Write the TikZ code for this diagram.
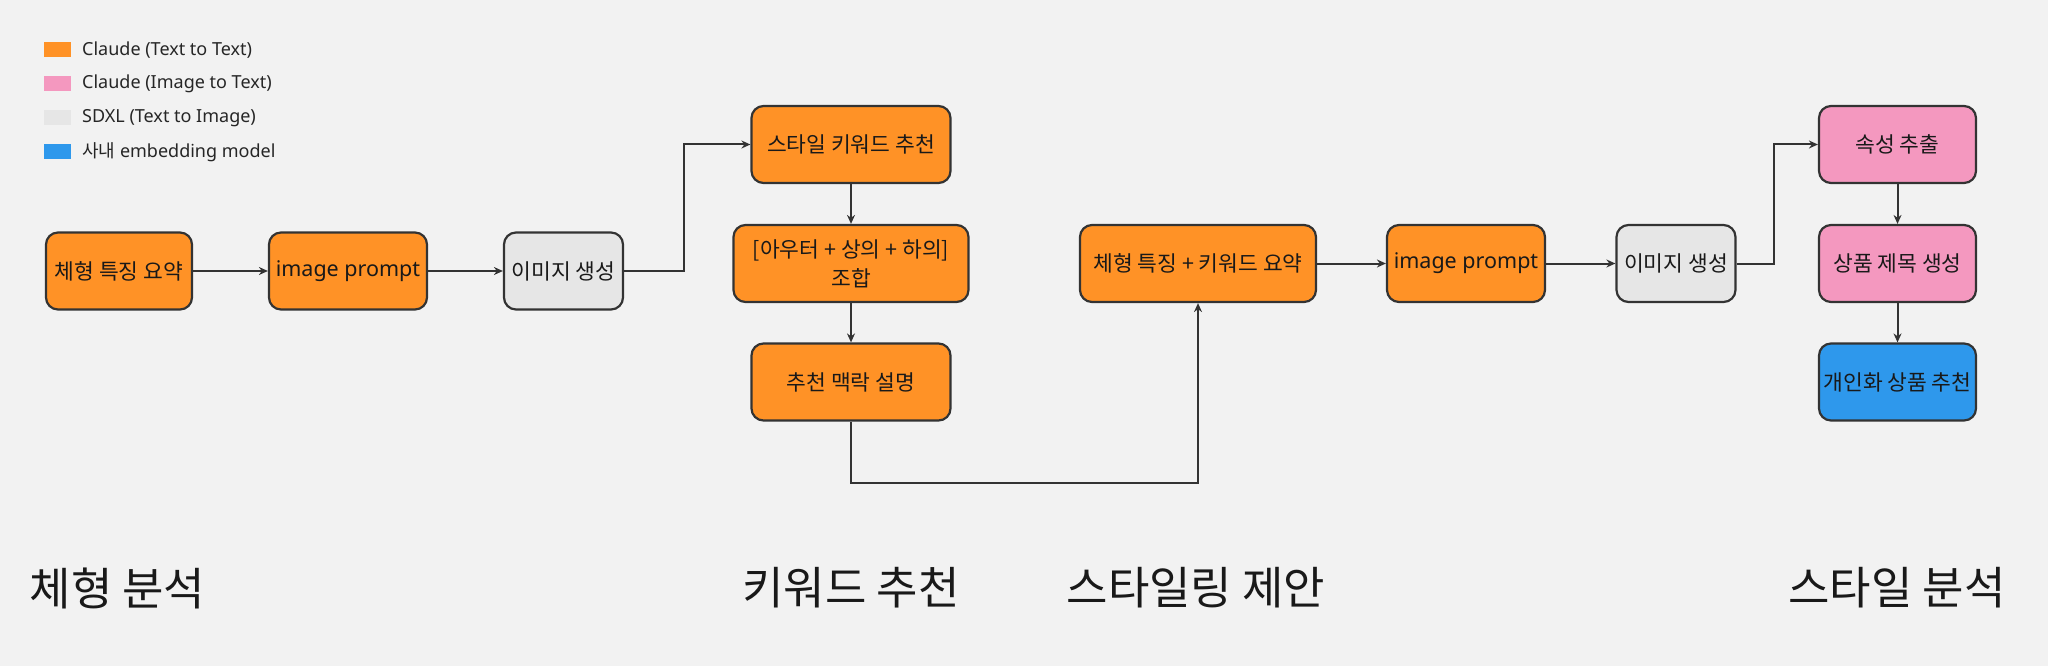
\documentclass[tikz,border=0pt]{standalone}
\usepackage{fontspec}
\setmainfont{Noto Sans}
\newfontfamily\kr{Noto Sans CJK KR}
\usetikzlibrary{arrows.meta}
\definecolor{bgc}{HTML}{F2F2F2}
\definecolor{orangec}{HTML}{FF9226}
\definecolor{pinkc}{HTML}{F498BF}
\definecolor{grayc}{HTML}{E6E6E6}
\definecolor{bluec}{HTML}{2E98EC}
\definecolor{linec}{HTML}{333333}
\begin{document}
\begin{tikzpicture}[x=1pt,y=-1pt,
  box/.style={draw=linec, line width=2.2pt, rounded corners=12pt, minimum height=77pt,
    align=center, inner sep=0pt, text=black!90, font=\kr\fontsize{21.5}{29}\selectfont},
  obox/.style={box, fill=orangec},
  pbox/.style={box, fill=pinkc},
  gbox/.style={box, fill=grayc},
  bbox/.style={box, fill=bluec},
  conn/.style={draw=linec, line width=2pt, -{Stealth[length=9pt,width=8pt]}},
  legsq/.style={minimum width=27pt, minimum height=15pt, inner sep=0pt},
  legtxt/.style={anchor=west, inner sep=0pt, text=black!85, font=\fontsize{18}{22}\selectfont},
  phase/.style={inner sep=0pt, text=black!90, font=\kr\fontsize{45}{50}\selectfont}
]
\useasboundingbox (0,0) rectangle (2048,666);
\fill[bgc] (0,0) rectangle (2048,666);

% legend
\node[legsq, fill=orangec] (l1) at (57.5,50) {};
\node[legtxt] (t1) at (82,50) {Claude (Text to Text)};
\node[legsq, fill=pinkc] (l2) at (57.5,84) {};
\node[legtxt] (t2) at (82,84) {Claude (Image to Text)};
\node[legsq, fill=grayc] (l3) at (57.5,118) {};
\node[legtxt] (t3) at (82,118) {SDXL (Text to Image)};
\node[legsq, fill=bluec] (l4) at (57.5,152) {};
\node[legtxt] (t4) at (82,152) {{\kr 사내} embedding model};

% nodes
\node[obox, minimum width=146pt] (n1) at (119,271) {체형 특징 요약};
\node[obox, minimum width=158pt, font=\fontsize{21.5}{29}\selectfont] (n2) at (348,271) {image prompt};
\node[gbox, minimum width=119pt] (n3) at (563.5,271) {이미지 생성};
\node[obox, minimum width=199pt] (n4) at (851,144.5) {스타일 키워드 추천};
\node[obox, minimum width=235pt] (n5) at (851,263.5) {[아우터 + 상의 + 하의]\\조합};
\node[obox, minimum width=199pt] (n6) at (851,382) {추천 맥락 설명};
\node[obox, minimum width=236pt] (n7) at (1198,263.5) {체형 특징 + 키워드 요약};
\node[obox, minimum width=158pt, font=\fontsize{21.5}{29}\selectfont] (n8) at (1466,263.5) {image prompt};
\node[gbox, minimum width=119pt] (n9) at (1676,263.5) {이미지 생성};
\node[pbox, minimum width=157pt] (n10) at (1897.5,144.5) {속성 추출};
\node[pbox, minimum width=157pt] (n11) at (1897.5,263.5) {상품 제목 생성};
\node[bbox, minimum width=157pt] (n12) at (1897.5,382) {개인화 상품 추천};

\coordinate (j1) at (684,271);
\coordinate (j2) at (1198,483);
\coordinate (j3) at (1774,263.5);

\draw[conn] (n1) -- (n2);
\draw[conn] (n2) -- (n3);
\draw[conn] (n3.east) -- (j1) |- (n4.west);
\draw[conn] (n4) -- (n5);
\draw[conn] (n5) -- (n6);
\draw[conn] (n6.south) |- (j2) -- (n7.south);
\draw[conn] (n7) -- (n8);
\draw[conn] (n8) -- (n9);
\draw[conn] (n9.east) -- (j3) |- (n10.west);
\draw[conn] (n10) -- (n11);
\draw[conn] (n11) -- (n12);

% phase labels
\node[phase] (p1) at (117.5,588) {체형 분석};
\node[phase] (p2) at (851,588) {키워드 추천};
\node[phase] (p3) at (1196,588) {스타일링 제안};
\node[phase] (p4) at (1897,588) {스타일 분석};
\end{tikzpicture}
\end{document}
